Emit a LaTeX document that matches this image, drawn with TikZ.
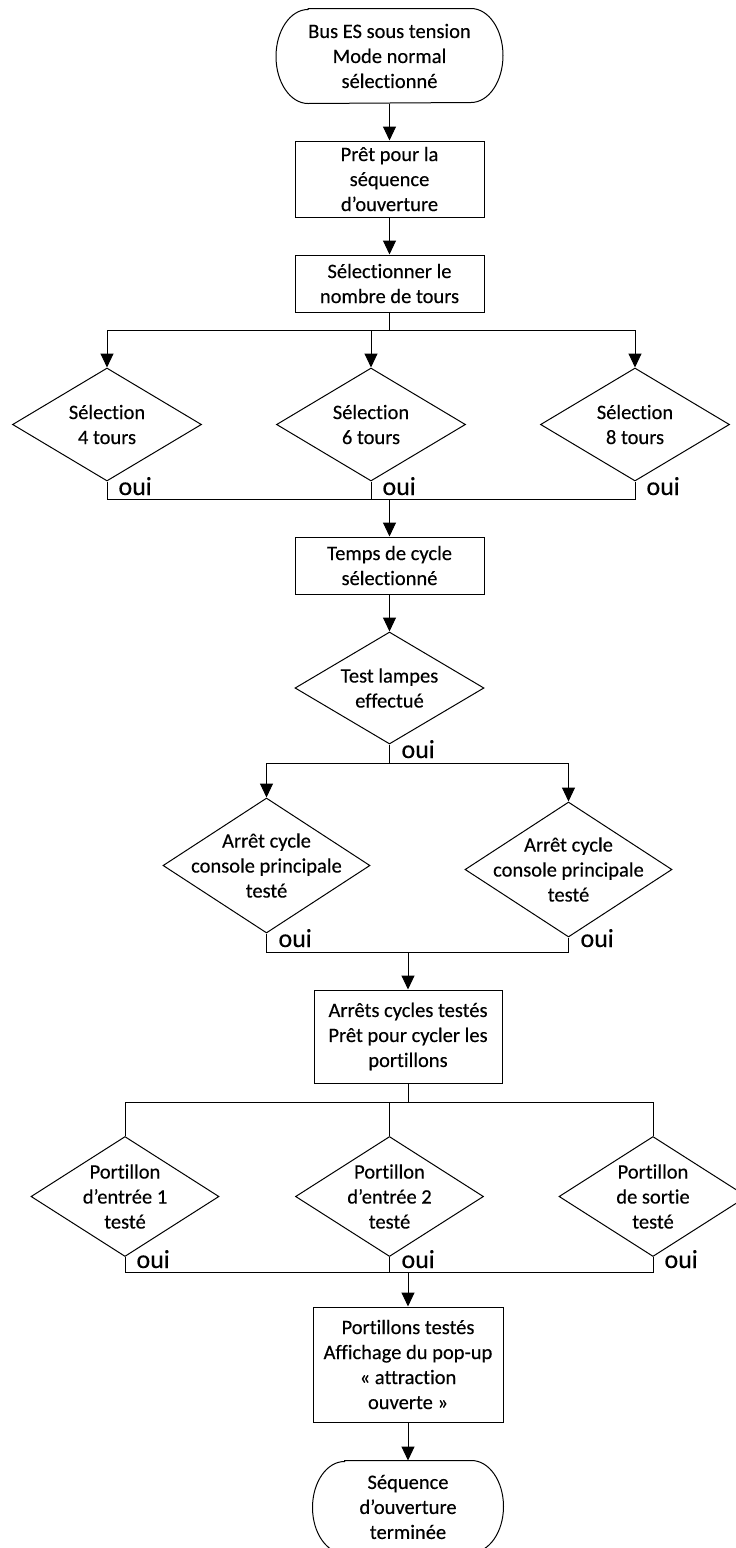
\documentclass[tikz,border=0pt]{standalone}
\usepackage{fontspec}
\setmainfont{Carlito}[FakeBold=0.3,Ligatures={NoCommon}]
\usetikzlibrary{arrows.meta,shapes.geometric}
\newcommand\stadiumpath[3]{%
  \draw[line width=1pt] ([xshift=#2]#1.north west) -- ([xshift=-#2]#1.north east)
    arc[start angle=90,end angle=-90,x radius=#2,y radius=#3]
    -- ([xshift=#2]#1.south west)
    arc[start angle=270,end angle=90,x radius=#2,y radius=#3] -- cycle;}
\begin{document}
\begin{tikzpicture}[x=1pt,y=-1pt,line width=1pt,
  every node/.style={font=\fontsize{20.5}{25}\selectfont},
  box/.style={draw, rectangle, align=center, inner sep=0pt},
  dia/.style={draw, diamond, inner sep=0pt},
  txt/.style={align=center, inner sep=0pt},
  oui/.style={font=\fontsize{26}{30}\selectfont, anchor=base west, inner sep=0pt},
  arr/.style={-{Triangle[length=14pt,width=13pt]}}]
\fill[white] (0,0) rectangle (736,1548);
\useasboundingbox (0,0) rectangle (736,1548);
\clip (0,0) rectangle (736,1548);

% nodes
\node[txt, minimum width=226pt, minimum height=94pt] (t1) at (389.5,56) {Bus ES sous tension\\Mode normal\\sélectionné};
\stadiumpath{t1}{32pt}{47pt}
\node[box, minimum width=189pt, minimum height=76pt] (b1) at (389.5,179) {Prêt pour la\\séquence\\d’ouverture};
\node[box, minimum width=189pt, minimum height=57pt] (b2) at (389.5,283.5) {Sélectionner le\\nombre de tours};

\node[dia, minimum width=189pt, minimum height=113pt] (d1) at (107,424.5) {};
\node[txt] (d1t) at (d1) {Sélection\\4 tours};
\node[dia, minimum width=189pt, minimum height=113pt] (d2) at (371,424.5) {};
\node[txt] (d2t) at (d2) {Sélection\\6 tours};
\node[dia, minimum width=189pt, minimum height=113pt] (d3) at (635,424.5) {};
\node[txt] (d3t) at (d3) {Sélection\\8 tours};

\node[box, minimum width=189pt, minimum height=57pt] (b3) at (389.5,565.5) {Temps de cycle\\sélectionné};

\node[dia, minimum width=189pt, minimum height=112pt] (d4) at (389.5,688) {};
\node[txt] (d4t) at (d4) {Test lampes\\effectué};

\node[dia, minimum width=207pt, minimum height=135pt] (d5) at (266.5,865.5) {};
\node[txt] (d5t) at (d5) {Arrêt cycle\\console principale\\testé};
\node[dia, minimum width=207pt, minimum height=135pt] (d6) at (568.5,869.5) {};
\node[txt] (d6t) at (d6) {Arrêt cycle\\console principale\\testé};

\node[box, minimum width=188pt, minimum height=93pt] (b4) at (408,1036.5) {Arrêts cycles testés\\Prêt pour cycler les\\portillons};

\node[dia, minimum width=188pt, minimum height=120pt] (d7) at (125,1196.5) {};
\node[txt] (d7t) at (d7) {Portillon\\d’entrée 1\\testé};
\node[dia, minimum width=188pt, minimum height=120pt] (d8) at (389.5,1196.5) {};
\node[txt] (d8t) at (d8) {Portillon\\d’entrée 2\\testé};
\node[dia, minimum width=188pt, minimum height=120pt] (d9) at (653,1196.5) {};
\node[txt] (d9t) at (d9) {Portillon\\de sortie\\testé};

\node[box, minimum width=190pt, minimum height=115pt] (b5) at (408,1364.5) {Portillons testés\\Affichage du pop-up\\« attraction\\ouverte »};

\node[txt, minimum width=190pt, minimum height=92pt] (t2) at (408,1507) {Séquence\\d’ouverture\\terminée};
\stadiumpath{t2}{32pt}{46pt}

% oui labels
\node[oui] (o1) at (118,495) {oui};
\node[oui] (o2) at (382,495) {oui};
\node[oui] (o3) at (646,495) {oui};
\node[oui] (o4) at (401,758) {oui};
\node[oui] (o5) at (278,947) {oui};
\node[oui] (o6) at (580,947) {oui};
\node[oui] (o7) at (136,1268) {oui};
\node[oui] (o8) at (401,1268) {oui};
\node[oui] (o9) at (664,1268) {oui};

% junction coordinates
\coordinate (j1) at (389.5,330);
\coordinate (k1) at (389.5,499);
\coordinate (j2) at (389.5,763);
\coordinate (k2) at (408,952);
\coordinate (j3) at (408,1102);
\coordinate (k3) at (408,1272);

% connectors
\draw[arr] (t1.south) -- (b1.north);
\draw[arr] (b1.south) -- (b2.north);
\draw (b2.south) -- (j1);
\draw (d1.north |- j1) -- (d3.north |- j1);
\draw[arr] (d1.north |- j1) -- (d1.north);
\draw[arr] (d2.north |- j1) -- (d2.north);
\draw[arr] (d3.north |- j1) -- (d3.north);

\draw (d1.south) -- (d1.south |- k1) -- (d3.south |- k1) -- (d3.south);
\draw (d2.south) -- (d2.south |- k1);
\draw[arr] (k1) -- (b3.north);
\draw[arr] (b3.south) -- (d4.north);

\draw (d4.south) -- (j2);
\draw (d5.north |- j2) -- (d6.north |- j2);
\draw[arr] (d5.north |- j2) -- (d5.north);
\draw[arr] (d6.north |- j2) -- (d6.north);

\draw (d5.south) -- (d5.south |- k2) -- (d6.south |- k2) -- (d6.south);
\draw[arr] (k2) -- (b4.north);

\draw (b4.south) -- (j3);
\draw (d7.north |- j3) -- (d9.north |- j3);
\draw (d7.north |- j3) -- (d7.north);
\draw (d8.north |- j3) -- (d8.north);
\draw (d9.north |- j3) -- (d9.north);

\draw (d7.south) -- (d7.south |- k3) -- (d9.south |- k3) -- (d9.south);
\draw (d8.south) -- (d8.south |- k3);
\draw[arr] (k3) -- (b5.north);
\draw[arr] (b5.south) -- (t2.north);
\end{tikzpicture}
\end{document}
